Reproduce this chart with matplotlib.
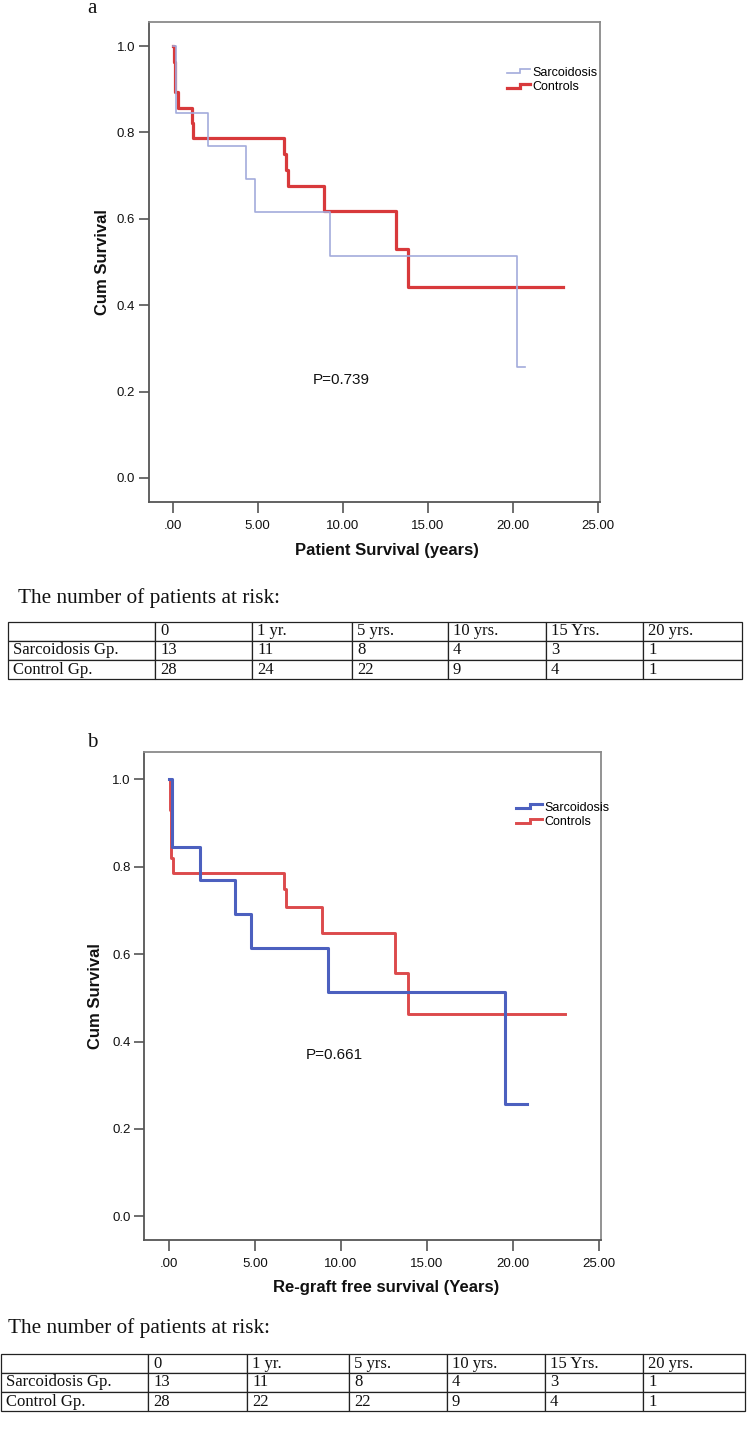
import matplotlib
matplotlib.use("Agg")
import matplotlib.pyplot as plt
from matplotlib.lines import Line2D
from matplotlib.legend_handler import HandlerBase

# ---------------- data ----------------
# Panel a: patient survival
a_sarc_t = [0, 0.19, 2.10, 4.29, 4.82, 9.25, 20.23, 20.72]
a_sarc_s = [1.0, 0.846, 0.769, 0.692, 0.615, 0.513, 0.256, 0.256]
a_ctrl_t = [0, 0.076, 0.135, 0.29, 1.12, 1.18, 6.55, 6.64, 6.76, 8.88, 13.13, 13.84, 22.98]
a_ctrl_s = [1.0, 0.964, 0.893, 0.857, 0.821, 0.786, 0.750, 0.714, 0.677, 0.619, 0.531, 0.442, 0.442]

# Panel b: re-graft free survival
b_sarc_t = [0, 0.157, 1.82, 3.82, 4.79, 9.24, 19.53, 20.8]
b_sarc_s = [1.0, 0.846, 0.769, 0.692, 0.615, 0.513, 0.256, 0.256]
b_ctrl_t = [0, 0.058, 0.116, 0.25, 6.69, 6.78, 8.88, 13.16, 13.87, 23.0]
b_ctrl_s = [1.0, 0.929, 0.821, 0.786, 0.750, 0.707, 0.648, 0.556, 0.463, 0.463]

series_labels = ["Sarcoidosis", "Controls"]
x_ticks = [0, 5, 10, 15, 20, 25]
x_ticklabels = [".00", "5.00", "10.00", "15.00", "20.00", "25.00"]
y_ticks = [0.0, 0.2, 0.4, 0.6, 0.8, 1.0]
y_ticklabels = ["0.0", "0.2", "0.4", "0.6", "0.8", "1.0"]

p_a = "P=0.739"
p_b = "P=0.661"
xlabel_a = "Patient Survival (years)"
xlabel_b = "Re-graft free survival (Years)"
ylabel = "Cum Survival"

table_title = "The number of patients at risk:"
table_cols = ["", "0", "1 yr.", "5 yrs.", "10 yrs.", "15 Yrs.", "20 yrs."]
row_names = ["Sarcoidosis Gp.", "Control Gp."]
a_risk_sarc = [13, 11, 8, 4, 3, 1]
a_risk_ctrl = [28, 24, 22, 9, 4, 1]
b_risk_sarc = [13, 11, 8, 4, 3, 1]
b_risk_ctrl = [28, 22, 22, 9, 4, 1]

# ---------------- styling ----------------
SANS = ["Liberation Sans", "DejaVu Sans"]
SERIF = ["Liberation Serif", "DejaVu Serif"]
plt.rcParams["font.family"] = SANS

W, H = 748, 1452
fig = plt.figure(figsize=(W / 100, H / 100), dpi=100)


def fig_rect(l, t, r, b):
    return [l / W, 1 - b / H, (r - l) / W, (b - t) / H]


class StepHandler(HandlerBase):
    def create_artists(self, legend, orig_handle, xdescent, ydescent,
                       width, height, fontsize, trans):
        x0 = -xdescent
        ylo = -ydescent + 0.25 * height
        yhi = -ydescent + 0.75 * height
        xm = x0 + 0.55 * width
        ln = Line2D([x0, xm, xm, x0 + width], [ylo, ylo, yhi, yhi],
                    color=orig_handle.get_color(),
                    lw=orig_handle.get_linewidth(),
                    solid_joinstyle="miter", transform=trans)
        return [ln]


def km_panel(rect, xlim, ylim, s_t, s_s, c_t, c_s, s_col, s_lw, c_col, c_lw,
             xlabel, ylab_x, xlab_xy, ptxt, pxy, leg_xy, handlelen):
    ax = fig.add_axes(rect)
    ax.step(s_t, s_s, where="post", color=s_col, lw=s_lw, label=series_labels[0],
            zorder=3)
    ax.step(c_t, c_s, where="post", color=c_col, lw=c_lw, label=series_labels[1],
            zorder=2)
    ax.set_xlim(*xlim)
    ax.set_ylim(*ylim)
    ax.set_xticks(x_ticks)
    ax.set_xticklabels(x_ticklabels)
    ax.set_yticks(y_ticks)
    ax.set_yticklabels(y_ticklabels)
    ax.tick_params(axis="both", direction="out", length=7, width=1.2,
                   color="#555555", labelsize=9.5, labelcolor="#111111", pad=3)
    ax.tick_params(axis="x", length=8, pad=5)
    for side in ("left", "bottom"):
        ax.spines[side].set_color("#555555")
        ax.spines[side].set_linewidth(1.3)
    for side in ("top", "right"):
        ax.spines[side].set_color("#8a8a8a")
        ax.spines[side].set_linewidth(1.3)
    ax.set_xlabel(xlabel, fontsize=12, fontweight="bold", color="#111111")
    ax.xaxis.set_label_coords(*xlab_xy)
    ax.set_ylabel(ylabel, fontsize=12, fontweight="bold", color="#111111")
    ax.yaxis.set_label_coords(ylab_x, 0.5)
    ax.text(pxy[0], pxy[1], ptxt, transform=ax.transAxes, ha="center",
            va="center", fontsize=11, color="#111111")
    ax.legend(loc="upper left", bbox_to_anchor=leg_xy, frameon=False,
              fontsize=9, handlelength=handlelen, handletextpad=0.15,
              labelspacing=0.2, borderpad=0, borderaxespad=0,
              handler_map={Line2D: StepHandler()})
    return ax


# Panel a
km_panel(fig_rect(149, 22, 600, 502), (-1.394, 25.14), (-0.0556, 1.0556),
         a_sarc_t, a_sarc_s, a_ctrl_t, a_ctrl_s,
         "#a3abdc", 1.2, "#d8393b", 2.3,
         xlabel_a, -0.087, (0.527, -0.086), p_a, (0.427, 0.254), (0.794, 0.907), 1.85)

# Panel b
km_panel(fig_rect(144.3, 752.3, 601, 1240.3), (-1.436, 25.12), (-0.0549, 1.062),
         b_sarc_t, b_sarc_s, b_ctrl_t, b_ctrl_s,
         "#4c60bf", 2.2, "#dc4a4c", 2.1,
         xlabel_b, -0.090, (0.530, -0.082), p_b, (0.417, 0.379), (0.814, 0.899), 2.1)

# panel letters
fig.text(92 / W, 1 - 13 / H, "a", family=SERIF, fontsize=15, ha="center",
         va="baseline", color="#111111")
fig.text(92 / W, 1 - 747 / H, "b", family=SERIF, fontsize=15, ha="center",
         va="baseline", color="#111111")


def risk_table(title_xy, left, top, right, bottom, bounds, sarc, ctrl):
    fig.text(title_xy[0] / W, 1 - title_xy[1] / H, table_title, family=SERIF,
             fontsize=15.3, ha="left", va="center", color="#111111")
    tax = fig.add_axes(fig_rect(left, top, right, bottom))
    tax.axis("off")
    widths_px = [bounds[i + 1] - bounds[i] for i in range(len(bounds) - 1)]
    total = float(sum(widths_px))
    cell_text = [table_cols,
                 [row_names[0]] + [str(v) for v in sarc],
                 [row_names[1]] + [str(v) for v in ctrl]]
    tbl = tax.table(cellText=cell_text, colWidths=[w / total for w in widths_px],
                    cellLoc="left", bbox=[0, 0, 1, 1])
    tbl.auto_set_font_size(False)
    for (r, c), cell in tbl.get_celld().items():
        cell.set_edgecolor("#222222")
        cell.set_linewidth(0.9)
        cell.PAD = 5.0 / widths_px[c]
        cell.get_text().set_fontfamily(SERIF)
        cell.get_text().set_fontsize(12)
        cell.get_text().set_color("#111111")


risk_table((18, 598), 8, 622, 742, 679,
           [8, 155, 252, 352, 448, 546, 643, 742], a_risk_sarc, a_risk_ctrl)
risk_table((8, 1328), 0.5, 1354, 745, 1411,
           [0.5, 148, 247, 349, 447, 545, 643, 745], b_risk_sarc, b_risk_ctrl)

fig.savefig("out.png", dpi=100)
